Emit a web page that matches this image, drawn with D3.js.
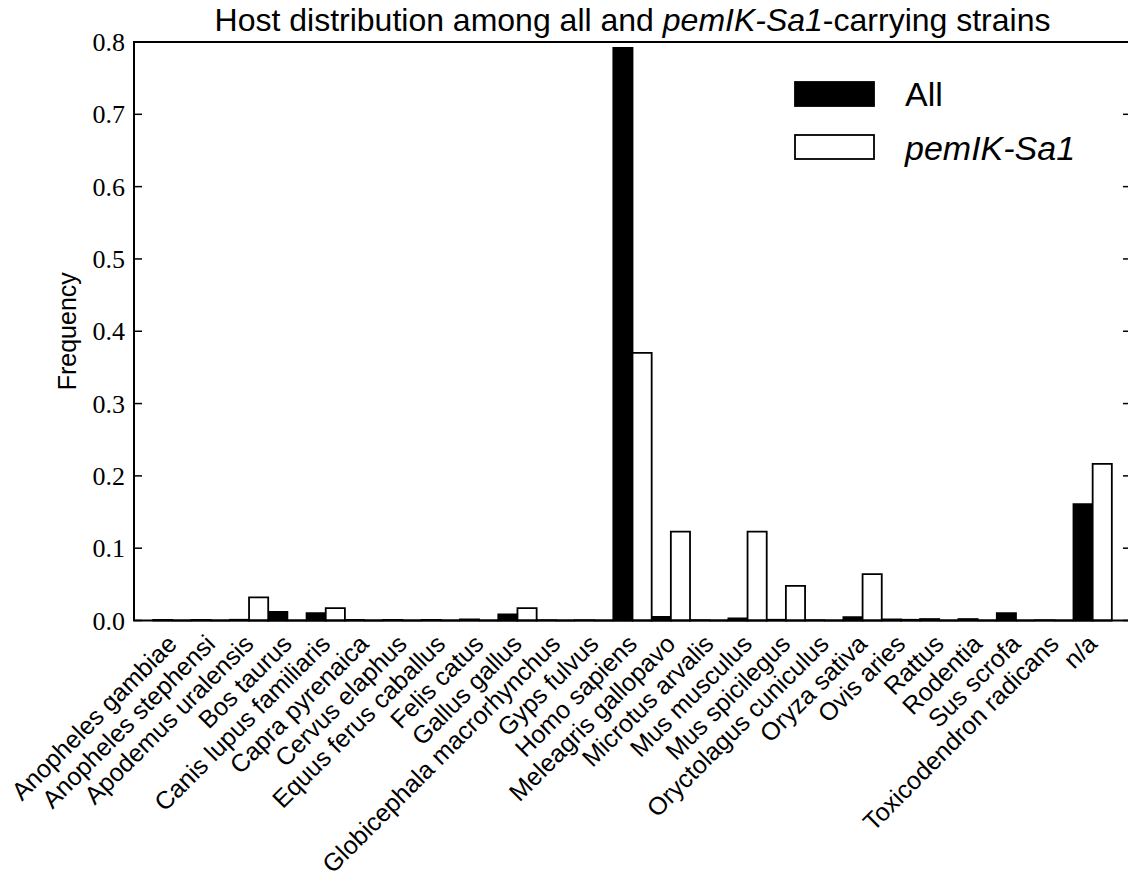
<!DOCTYPE html>
<html>
<head>
<meta charset="utf-8">
<script src="https://cdn.jsdelivr.net/npm/d3@7"></script>
<style>
  body { margin: 0; background: #fff; }
  svg { display: block; }
</style>
</head>
<body>
<div id="chart"></div>
<script>
// host categories, in plotting order
const hosts = ['Anopheles gambiae', 'Anopheles stephensi', 'Apodemus uralensis', 'Bos taurus',
  'Canis lupus familiaris', 'Capra pyrenaica', 'Cervus elaphus', 'Equus ferus caballus', 'Felis catus',
  'Gallus gallus', 'Globicephala macrorhynchus', 'Gyps fulvus', 'Homo sapiens', 'Meleagris gallopavo',
  'Microtus arvalis', 'Mus musculus', 'Mus spicilegus', 'Oryctolagus cuniculus', 'Oryza sativa',
  'Ovis aries', 'Rattus', 'Rodentia', 'Sus scrofa', 'Toxicodendron radicans', 'n/a'];

// frequency among all strains
const allFreq = [0.0008, 0.0008, 0.001, 0.012, 0.010, 0.0008, 0.0008, 0.0008, 0.0015,
  0.0085, 0.0005, 0.0005, 0.792, 0.005, 0.0005, 0.003, 0.001, 0.0005, 0.0045,
  0.0015, 0.002, 0.002, 0.010, 0.0005, 0.161];

// frequency among pemIK-Sa1-carrying strains
const pemFreq = [0, 0, 0.032, 0, 0.017, 0, 0, 0, 0,
  0.017, 0, 0, 0.370, 0.123, 0, 0.123, 0.048, 0, 0.064,
  0.001, 0, 0, 0, 0, 0.2165];

const yTicks = [0.0, 0.1, 0.2, 0.3, 0.4, 0.5, 0.6, 0.7, 0.8];

const W = 1128, H = 887;
const margin = {top: 42, left: 134, right: 1131, bottom: 620.5};
const barW = 0.5;

const svg = d3.select('#chart').append('svg')
  .attr('width', W).attr('height', H);

const x = d3.scaleLinear().domain([-0.5, hosts.length + 0.5]).range([margin.left, margin.right]);
const y = d3.scaleLinear().domain([0, 0.8]).range([margin.bottom, margin.top]);

const sans = "'Liberation Sans', Arial, Helvetica, sans-serif";
const serif = "'Liberation Serif', 'Times New Roman', serif";

// bar as a path so zero-height bars still show their edge
function barPath(x0, v) {
  const xa = x(x0), xb = x(x0 + barW), y0 = y(0), y1 = y(v);
  return `M${xa},${y0}V${y1}H${xb}V${y0}Z`;
}

const plot = svg.append('g');
plot.selectAll('.barAll')
  .data(allFreq)
  .enter().append('path')
  .attr('class', 'barAll')
  .attr('d', (d, i) => barPath(i, d))
  .attr('fill', '#000')
  .attr('stroke', '#000')
  .attr('stroke-width', 1.8);

plot.selectAll('.barPem')
  .data(pemFreq)
  .enter().append('path')
  .attr('class', 'barPem')
  .attr('d', (d, i) => barPath(i + barW, d))
  .attr('fill', '#fff')
  .attr('stroke', '#000')
  .attr('stroke-width', 1.8);

// y ticks, inward on both sides
const tickLen = 8;
svg.append('g').selectAll('line')
  .data(yTicks)
  .enter().append('line')
  .attr('x1', margin.left).attr('x2', margin.left + tickLen)
  .attr('y1', d => y(d)).attr('y2', d => y(d))
  .attr('stroke', '#000').attr('stroke-width', 1.5);
svg.append('g').selectAll('line')
  .data(yTicks)
  .enter().append('line')
  .attr('x1', margin.right).attr('x2', margin.right - tickLen)
  .attr('y1', d => y(d)).attr('y2', d => y(d))
  .attr('stroke', '#000').attr('stroke-width', 1.5);

svg.append('g').selectAll('text')
  .data(yTicks)
  .enter().append('text')
  .attr('x', margin.left - 9)
  .attr('y', d => y(d) + 9)
  .attr('text-anchor', 'end')
  .attr('font-family', serif)
  .attr('font-size', 26)
  .text(d => d.toFixed(1));

// spines
svg.append('rect')
  .attr('x', margin.left).attr('y', margin.top)
  .attr('width', margin.right - margin.left)
  .attr('height', margin.bottom - margin.top)
  .attr('fill', 'none').attr('stroke', '#000').attr('stroke-width', 2);

// x tick labels, rotated 45 and right-aligned to the pair centre
svg.append('g').selectAll('text')
  .data(hosts)
  .enter().append('text')
  .attr('transform', (d, i) => `translate(${x(i + barW) + 6},${margin.bottom + 25}) rotate(-45)`)
  .attr('text-anchor', 'end')
  .attr('font-family', sans)
  .attr('font-size', 25)
  .text(d => d);

// y label
svg.append('text')
  .attr('transform', `translate(76,${y(0.4)}) rotate(-90)`)
  .attr('text-anchor', 'middle')
  .attr('font-family', sans)
  .attr('font-size', 25)
  .text('Frequency');

// title
const title = svg.append('text')
  .attr('x', (margin.left + margin.right) / 2)
  .attr('y', 31)
  .attr('text-anchor', 'middle')
  .attr('font-family', sans)
  .attr('font-size', 32);
title.append('tspan').text('Host distribution among all and ');
title.append('tspan').attr('font-style', 'italic').text('pemIK-Sa1');
title.append('tspan').text('-carrying strains');

// legend
const legend = svg.append('g');
const legendItems = [
  {label: 'All', fill: '#000', italic: false},
  {label: 'pemIK-Sa1', fill: '#fff', italic: true}
];
legendItems.forEach((it, i) => {
  const ly = 82 + i * 53;
  legend.append('rect')
    .attr('x', 795).attr('y', ly)
    .attr('width', 79).attr('height', 24)
    .attr('fill', it.fill).attr('stroke', '#000').attr('stroke-width', 1.8);
  legend.append('text')
    .attr('x', 905).attr('y', ly + 23.5 + i * 1.5)
    .attr('font-family', sans)
    .attr('font-size', 34)
    .attr('font-style', it.italic ? 'italic' : 'normal')
    .text(it.label);
});
</script>
</body>
</html>
